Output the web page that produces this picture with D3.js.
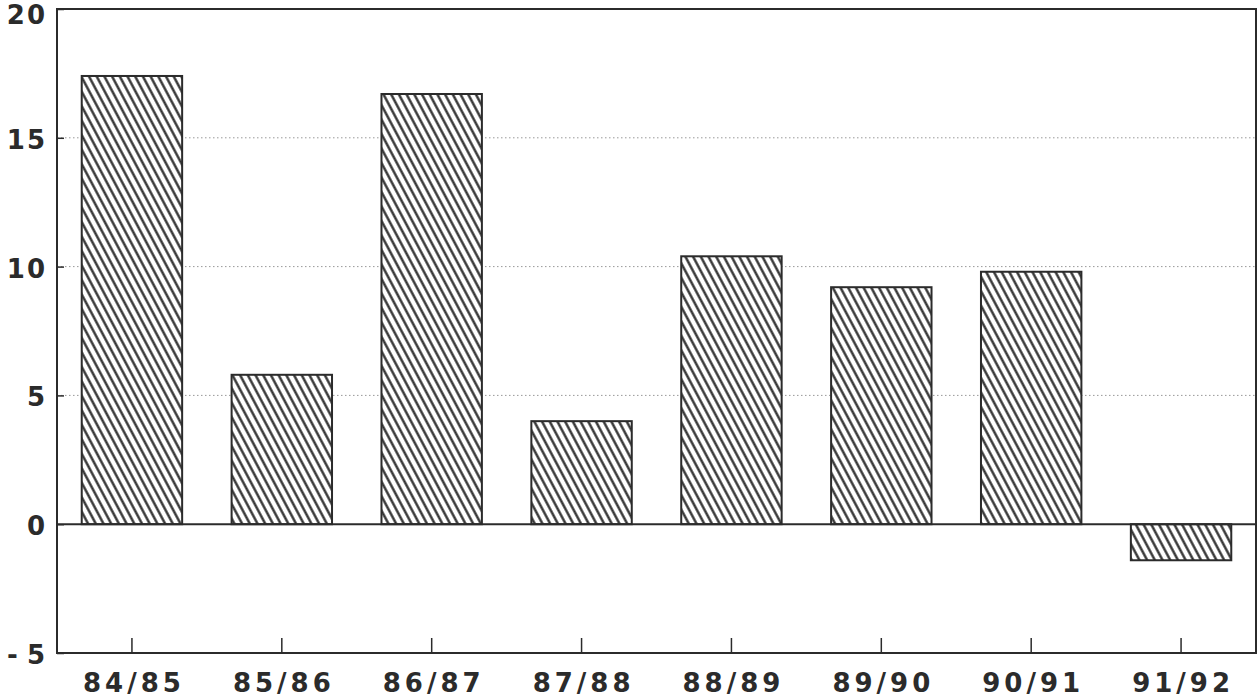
<!DOCTYPE html>
<html>
<head>
<meta charset="utf-8">
<script src="https://cdn.jsdelivr.net/npm/d3@7"></script>
<style>
  body { margin: 0; background: #fff; }
  text { font-family: "DejaVu Sans", sans-serif; font-weight: bold; fill: #2b2b2b; }
</style>
</head>
<body>
<div id="chart"></div>
<script>
const seasons = ["84/85", "85/86", "86/87", "87/88", "88/89", "89/90", "90/91", "91/92"]
const values = [17.4, 5.8, 16.7, 4.0, 10.4, 9.2, 9.8, -1.4]
const yTicks = [-5, 0, 5, 10, 15, 20]
const gridTicks = [5, 10, 15]

const width = 1260
const height = 700
const margin = {top: 9, bottom: 47, left: 57, right: 4}
const netWidth = width - margin.left - margin.right
const netHeight = height - margin.top - margin.bottom
const ink = "#2b2b2b"

const svg = d3.select("div#chart").append("svg").attr("width", width).attr("height", height)

// hatch pattern for bars
const defs = svg.append("defs")
const hatch = defs.append("pattern")
    .attr("id", "hatch")
    .attr("patternUnits", "userSpaceOnUse")
    .attr("width", 6.8).attr("height", 20)
    .attr("patternTransform", "rotate(-28)")
hatch.append("rect").attr("width", 6.8).attr("height", 20).attr("fill", "#fff")
hatch.append("line")
    .attr("x1", 3.4).attr("y1", 0).attr("x2", 3.4).attr("y2", 20)
    .attr("stroke", ink).attr("stroke-width", 2.3)

const g = svg.append("g").attr("transform", `translate(${margin.left}, ${margin.top})`)

const x = d3.scaleBand().domain(seasons).range([0, netWidth]).paddingInner(0.33).paddingOuter(0.165)
const y = d3.scaleLinear().domain([-5, 20]).range([netHeight, 0])

// dotted grid lines
g.append("g").selectAll("line")
    .data(gridTicks)
    .enter().append("line")
    .attr("x1", 0).attr("x2", netWidth)
    .attr("y1", d => y(d)).attr("y2", d => y(d))
    .attr("stroke", "#999").attr("stroke-width", 1).attr("stroke-dasharray", "1.5,2.5")

// bars
g.append("g").selectAll("rect")
    .data(values)
    .enter().append("rect")
    .attr("x", (d, i) => x(seasons[i]))
    .attr("y", d => y(Math.max(0, d)))
    .attr("width", x.bandwidth())
    .attr("height", d => Math.abs(y(d) - y(0)))
    .attr("fill", "url(#hatch)")
    .attr("stroke", ink).attr("stroke-width", 2)

// zero line
g.append("line")
    .attr("x1", 0).attr("x2", netWidth)
    .attr("y1", y(0)).attr("y2", y(0))
    .attr("stroke", ink).attr("stroke-width", 2)

// frame
g.append("rect")
    .attr("width", netWidth).attr("height", netHeight)
    .attr("fill", "none").attr("stroke", ink).attr("stroke-width", 2)

// y axis: ticks inside, labels outside
const yAxis = d3.axisRight(y).tickValues(yTicks).tickSize(7).tickFormat("")
const yAxisGroup = g.append("g").call(yAxis)
yAxisGroup.select(".domain").remove()
yAxisGroup.selectAll("line").attr("stroke", ink).attr("stroke-width", 1.5)

g.append("g").selectAll("text")
    .data(yTicks)
    .enter().append("text")
    .attr("x", -10)
    .attr("y", d => Math.max(y(d) + 11, 15))
    .attr("text-anchor", "end")
    .attr("font-size", 26)
    .attr("letter-spacing", 2)
    .text(d => d < 0 ? "-\u2009" + Math.abs(d) : d)

// x axis: ticks pointing up from bottom edge
const xAxis = d3.axisTop(x).tickSize(15).tickSizeOuter(0).tickFormat("")
const xAxisGroup = g.append("g").attr("transform", `translate(0, ${netHeight})`).call(xAxis)
xAxisGroup.select(".domain").remove()
xAxisGroup.selectAll("line").attr("stroke", ink).attr("stroke-width", 1.5)

g.append("g").selectAll("text")
    .data(seasons)
    .enter().append("text")
    .attr("x", d => x(d) + x.bandwidth() / 2 + 2)
    .attr("y", netHeight + 39)
    .attr("text-anchor", "middle")
    .attr("font-size", 26)
    .attr("letter-spacing", 4)
    .text(d => d)
</script>
</body>
</html>
